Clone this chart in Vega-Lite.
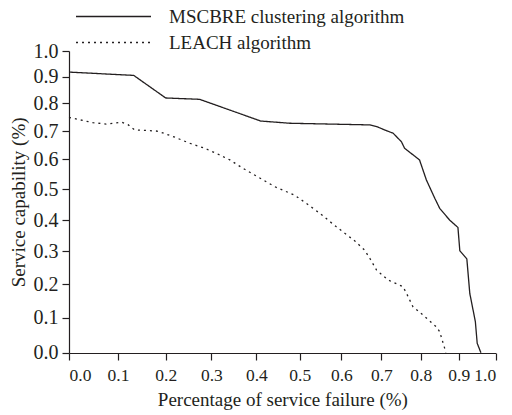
{
  "$schema": "https://vega.github.io/schema/vega-lite/v6.json",
  "autosize": "none",
  "width": 427,
  "height": 302,
  "padding": {"left": 69, "top": 51, "right": 16, "bottom": 62},
  "background": "white",
  "config": {
    "view": {"stroke": null},
    "font": "Liberation Serif",
    "axis": {
      "labelFont": "Liberation Serif",
      "titleFont": "Liberation Serif",
      "titleFontSize": 19,
      "titleFontWeight": "normal",
      "labelColor": "#231f20",
      "titleColor": "#231f20",
      "domainColor": "#231f20",
      "tickColor": "#231f20",
      "domainWidth": 1.2,
      "tickWidth": 1.2,
      "tickSize": 7,
      "grid": false,
      "labelLimit": 0
    },
    "legend": {
      "labelFont": "Liberation Serif",
      "labelFontSize": 19,
      "labelColor": "#231f20",
      "labelLimit": 0
    }
  },
  "data": {
    "values": [
      {"series": "MSCBRE clustering algorithm", "x": 0.0, "y": 0.918},
      {"series": "MSCBRE clustering algorithm", "x": 0.133, "y": 0.905},
      {"series": "MSCBRE clustering algorithm", "x": 0.2, "y": 0.82},
      {"series": "MSCBRE clustering algorithm", "x": 0.274, "y": 0.815},
      {"series": "MSCBRE clustering algorithm", "x": 0.41, "y": 0.736},
      {"series": "MSCBRE clustering algorithm", "x": 0.477, "y": 0.728},
      {"series": "MSCBRE clustering algorithm", "x": 0.671, "y": 0.722},
      {"series": "MSCBRE clustering algorithm", "x": 0.69, "y": 0.715},
      {"series": "MSCBRE clustering algorithm", "x": 0.708, "y": 0.704},
      {"series": "MSCBRE clustering algorithm", "x": 0.73, "y": 0.692},
      {"series": "MSCBRE clustering algorithm", "x": 0.751, "y": 0.662},
      {"series": "MSCBRE clustering algorithm", "x": 0.759, "y": 0.639},
      {"series": "MSCBRE clustering algorithm", "x": 0.797, "y": 0.598},
      {"series": "MSCBRE clustering algorithm", "x": 0.815, "y": 0.531},
      {"series": "MSCBRE clustering algorithm", "x": 0.837, "y": 0.471},
      {"series": "MSCBRE clustering algorithm", "x": 0.85, "y": 0.438},
      {"series": "MSCBRE clustering algorithm", "x": 0.876, "y": 0.4},
      {"series": "MSCBRE clustering algorithm", "x": 0.898, "y": 0.376},
      {"series": "MSCBRE clustering algorithm", "x": 0.903, "y": 0.301},
      {"series": "MSCBRE clustering algorithm", "x": 0.922, "y": 0.276},
      {"series": "MSCBRE clustering algorithm", "x": 0.93, "y": 0.172},
      {"series": "MSCBRE clustering algorithm", "x": 0.945, "y": 0.089},
      {"series": "MSCBRE clustering algorithm", "x": 0.95, "y": 0.027},
      {"series": "MSCBRE clustering algorithm", "x": 0.96, "y": 0.0},
      {"series": "LEACH algorithm", "x": 0.0, "y": 0.749},
      {"series": "LEACH algorithm", "x": 0.049, "y": 0.73},
      {"series": "LEACH algorithm", "x": 0.076, "y": 0.725},
      {"series": "LEACH algorithm", "x": 0.107, "y": 0.732},
      {"series": "LEACH algorithm", "x": 0.121, "y": 0.723},
      {"series": "LEACH algorithm", "x": 0.135, "y": 0.704},
      {"series": "LEACH algorithm", "x": 0.18, "y": 0.7},
      {"series": "LEACH algorithm", "x": 0.191, "y": 0.695},
      {"series": "LEACH algorithm", "x": 0.22, "y": 0.678},
      {"series": "LEACH algorithm", "x": 0.252, "y": 0.657},
      {"series": "LEACH algorithm", "x": 0.282, "y": 0.641},
      {"series": "LEACH algorithm", "x": 0.311, "y": 0.621},
      {"series": "LEACH algorithm", "x": 0.341, "y": 0.598},
      {"series": "LEACH algorithm", "x": 0.37, "y": 0.57},
      {"series": "LEACH algorithm", "x": 0.4, "y": 0.544},
      {"series": "LEACH algorithm", "x": 0.442, "y": 0.509},
      {"series": "LEACH algorithm", "x": 0.488, "y": 0.481},
      {"series": "LEACH algorithm", "x": 0.516, "y": 0.454},
      {"series": "LEACH algorithm", "x": 0.548, "y": 0.422},
      {"series": "LEACH algorithm", "x": 0.588, "y": 0.378},
      {"series": "LEACH algorithm", "x": 0.633, "y": 0.333},
      {"series": "LEACH algorithm", "x": 0.658, "y": 0.303},
      {"series": "LEACH algorithm", "x": 0.671, "y": 0.278},
      {"series": "LEACH algorithm", "x": 0.688, "y": 0.242},
      {"series": "LEACH algorithm", "x": 0.717, "y": 0.212},
      {"series": "LEACH algorithm", "x": 0.755, "y": 0.192},
      {"series": "LEACH algorithm", "x": 0.764, "y": 0.172},
      {"series": "LEACH algorithm", "x": 0.78, "y": 0.133},
      {"series": "LEACH algorithm", "x": 0.806, "y": 0.108},
      {"series": "LEACH algorithm", "x": 0.841, "y": 0.074},
      {"series": "LEACH algorithm", "x": 0.85, "y": 0.06},
      {"series": "LEACH algorithm", "x": 0.863, "y": 0.013},
      {"series": "LEACH algorithm", "x": 0.866, "y": 0.0}
    ]
  },
  "mark": {"type": "line", "color": "#231f20", "strokeWidth": 1.3},
  "encoding": {
    "x": {
      "field": "x",
      "type": "quantitative",
      "title": "Percentage of service failure (%)",
      "scale": {
        "domain": [0, 0.1, 0.2, 0.3, 0.4, 0.5, 0.6, 0.7, 0.8, 0.9, 1.0],
        "range": [0, 49, 96.7, 142.4, 187.4, 230.7, 272.4, 312.4, 351.7, 389.7, 426.7],
        "zero": false,
        "nice": false
      },
      "axis": {
        "values": [0, 0.1, 0.2, 0.3, 0.4, 0.5, 0.6, 0.7, 0.8, 0.9, 1.0],
        "format": ".1f",
        "labelFontSize": 17.5,
        "labelPadding": 6,
        "titlePadding": 7
      }
    },
    "y": {
      "field": "y",
      "type": "quantitative",
      "title": "Service capability (%)",
      "scale": {
        "domain": [0, 0.1, 0.2, 0.3, 0.4, 0.5, 0.6, 0.7, 0.8, 0.9, 1.0],
        "range": [301.7, 266.7, 233, 200, 169, 138.3, 108.3, 80, 52.3, 25.7, 0],
        "zero": false,
        "nice": false
      },
      "axis": {
        "values": [0, 0.1, 0.2, 0.3, 0.4, 0.5, 0.6, 0.7, 0.8, 0.9, 1.0],
        "format": ".1f",
        "labelFontSize": 20,
        "labelPadding": 4,
        "titlePadding": 5
      }
    },
    "strokeDash": {
      "field": "series",
      "type": "nominal",
      "scale": {
        "domain": ["MSCBRE clustering algorithm", "LEACH algorithm"],
        "range": [[1, 0], [2, 4]]
      },
      "legend": {
        "title": null,
        "orient": "none",
        "legendX": 31,
        "legendY": -48,
        "symbolType": "M-3,0H3",
        "symbolSize": 625,
        "symbolStrokeWidth": 1.5,
        "symbolStrokeColor": "#231f20",
        "labelOffset": 42
      }
    }
  }
}
